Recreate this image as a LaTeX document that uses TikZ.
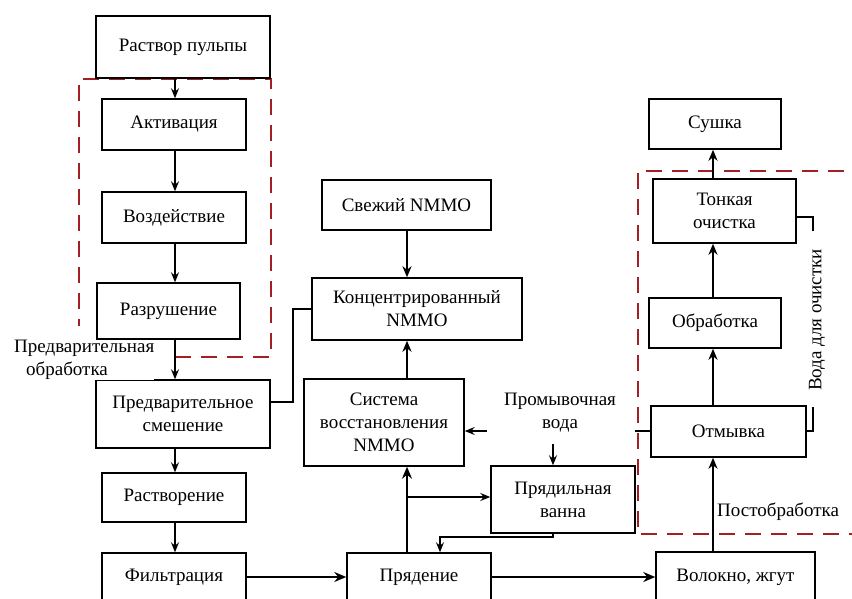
\documentclass[tikz,border=0pt]{standalone}
\usepackage{fontspec}
\setmainfont{Liberation Serif}
\usetikzlibrary{arrows.meta,calc}
\definecolor{dred}{RGB}{165,30,35}
\begin{document}
\begin{tikzpicture}[x=1pt,y=-1pt,
 box/.style={draw, line width=1.5pt, inner sep=0pt, align=center, font=\fontsize{19}{23}\selectfont},
 lbl/.style={inner sep=0pt, align=center, font=\fontsize{19}{23}\selectfont},
 arr/.style={-{Stealth[length=10pt,width=8pt,inset=3.5pt]}, line width=1.3pt},
 arrm/.style={-{Stealth[length=11pt,width=9pt,inset=3.5pt]}, line width=2pt},
 thk/.style={-{Stealth[length=12pt,width=10pt,inset=4pt]}, line width=2.8pt},
 ln/.style={line width=1.5pt},
 reddash/.style={draw=dred, line width=1.7pt, dash pattern=on 16pt off 10pt},
]
\useasboundingbox (0,0) rectangle (852,598);
\fill[white] (0,0) rectangle (852,598);

% dashed groups
\draw[reddash] (175,357) -- (271,357) -- (271,79) -- (79,79) -- (79,326);
\draw[reddash] (870,171) -- (638,171) -- (638,534) -- (870,534);

% left column
\node[box, minimum width=174, minimum height=62] (rp) at (183,47) {Раствор пульпы};
\node[box, minimum width=144, minimum height=51] (act) at (174,124.5) {Активация};
\node[box, minimum width=144, minimum height=51] (vozd) at (174,217.5) {Воздействие};
\node[box, minimum width=143, minimum height=56] (razr) at (168.5,311) {Разрушение};
\node[box, minimum width=174, minimum height=68] (pm) at (183,414) {Предварительное\\смешение};
\node[box, minimum width=144, minimum height=49] (rast) at (174,497.5) {Растворение};
\node[box, minimum width=144, minimum height=48] (filt) at (174,577) {Фильтрация};

\node[lbl, align=left, anchor=west, fill=white] (pre) at (14,360) {Предварительная\\\hspace*{12pt}обработка};

% middle
\node[box, minimum width=144, minimum height=48] (pr) at (419,577) {Прядение};
\node[box, minimum width=169, minimum height=50] (svez) at (406.5,205) {Свежий NMMO};
\node[box, minimum width=210, minimum height=62] (konc) at (417,309) {Концентрированный\\NMMO};
\node[box, minimum width=160, minimum height=87] (sys) at (384,422.5) {Система\\восстановления\\NMMO};
\node[box, minimum width=144, minimum height=67] (vanna) at (563,499.5) {Прядильная\\ванна};
\node[lbl] (pv) at (560,413) {Промывочная\\вода};

% right column
\node[box, minimum width=159, minimum height=50] (vol) at (735.5,577) {Волокно, жгут};
\node[box, minimum width=155, minimum height=51] (otm) at (728.5,431.5) {Отмывка};
\node[box, minimum width=132, minimum height=50] (obr) at (715,323) {Обработка};
\node[box, minimum width=143, minimum height=64] (tonk) at (724.5,211) {Тонкая\\очистка};
\node[box, minimum width=132, minimum height=50] (sush) at (715,124) {Сушка};
\node[lbl, anchor=west] (post) at (717,512) {Постобработка};
\node[lbl, rotate=90] (voda) at (817,320) {Вода для очистки};

% coordinates
\coordinate (ax) at (175,0);
\coordinate (cx) at (407,0);
\coordinate (rx) at (713,0);
\coordinate (vx) at (553,0);
\coordinate (px) at (440,0);
\coordinate (br) at (407,497);
\coordinate (j1) at (293,402);
\coordinate (pw) at (487,431);
\coordinate (pd) at (553,444);
\coordinate (ow) at (635,431);
\coordinate (w0) at (813,217);
\coordinate (w1) at (813,231);
\coordinate (w2) at (813,407);

% left column arrows
\draw[arr] (rp.south -| ax) -- (act.north -| ax);
\draw[arr] (act.south -| ax) -- (vozd.north -| ax);
\draw[arr] (vozd.south -| ax) -- (razr.north -| ax);
\draw[arr] (razr.south -| ax) -- (pm.north -| ax);
\draw[arr] (pm.south -| ax) -- (rast.north -| ax);
\draw[arr] (rast.south -| ax) -- (filt.north -| ax);

% main line
\draw[thk] (filt.east) -- (pr.west);
\draw[thk] (pr.east) -- (vol.west);
\draw[thk] (pr.north -| cx) -- (sys.south -| cx);
\draw[arr, line width=1.5pt] (br) -- (br -| vanna.west);
\draw[arr, line width=1.5pt] (vanna.south -| vx) -- ++(0,3) -| (pr.north -| px);

% NMMO
\draw[arrm] (svez.south -| cx) -- (konc.north -| cx);
\draw[arrm] (sys.north -| cx) -- (konc.south -| cx);
\draw[ln] (j1 -| pm.east) -- (j1) |- (konc.west);

% washing water
\draw[ln] (otm.west |- ow) -- (ow);
\draw[arr] (pw) -- (pw -| sys.east);
\draw[arr] (pd) -- (vanna.north -| vx);

% right column arrows
\draw[arrm] (vol.north -| rx) -- (otm.south -| rx);
\draw[arrm] (otm.north -| rx) -- (obr.south -| rx);
\draw[arrm] (obr.north -| rx) -- (tonk.south -| rx);
\draw[arrm] (tonk.north -| rx) -- (sush.south -| rx);

% water for cleaning bracket
\draw[ln] (tonk.east |- w0) -- (w0) -- (w1);
\draw[ln] (otm.east |- 0,431) -- (813,431) -- (w2);
\end{tikzpicture}
\end{document}
